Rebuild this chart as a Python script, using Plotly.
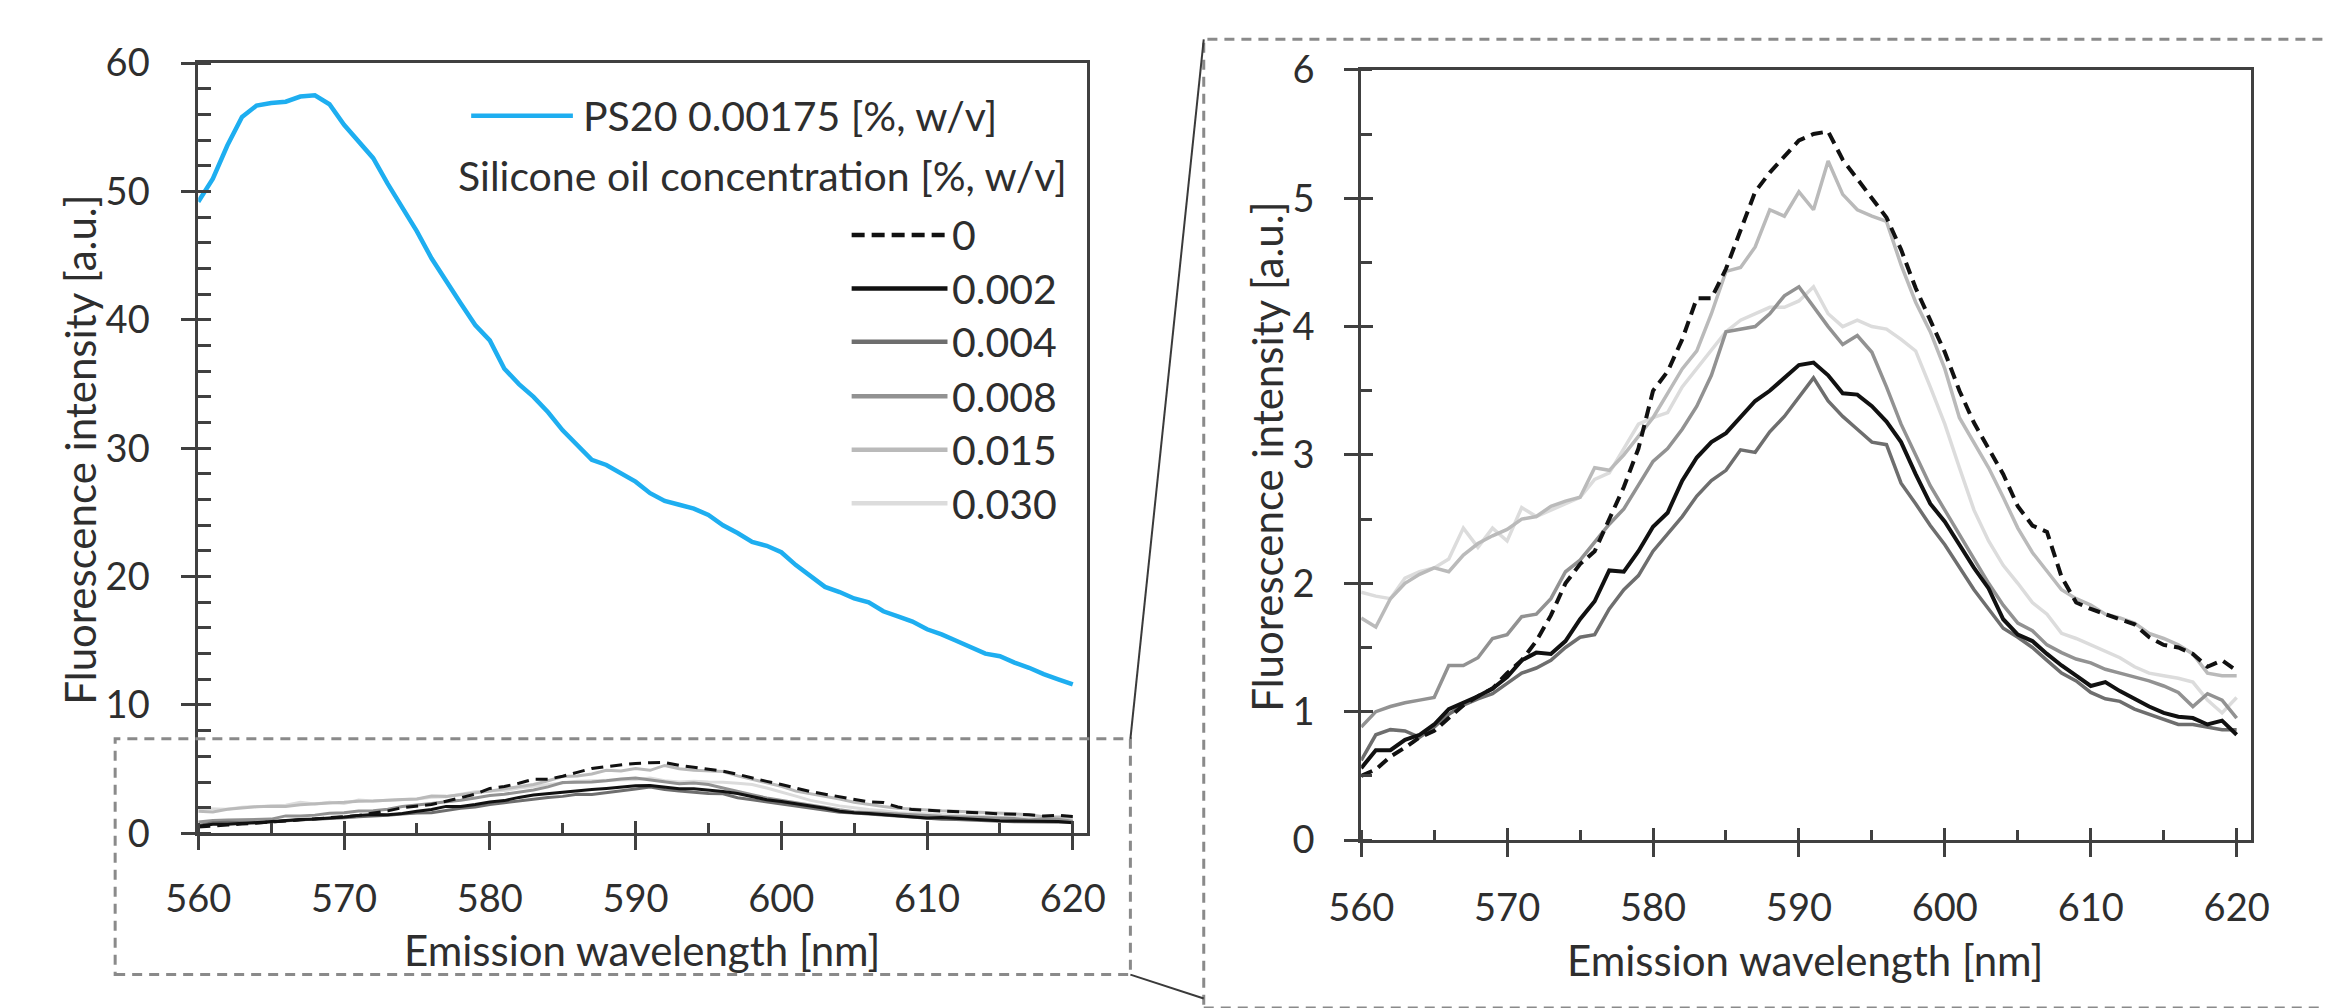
import plotly.graph_objects as go

# ---------------- data ----------------
wavelength_nm = list(range(560, 621))

ps20_00175 = [49.2, 51.0, 53.6, 55.8, 56.7, 56.9, 57.0, 57.4, 57.5, 56.8,
              55.2, 53.9, 52.6, 50.6, 48.8, 46.9, 44.8, 43.0, 41.3, 39.6,
              38.4, 36.2, 35.0, 34.0, 32.8, 31.4, 30.2, 29.1, 28.7, 28.0,
              27.4, 26.5, 25.9, 25.6, 25.3, 24.8, 24.0, 23.4, 22.7, 22.4,
              21.9, 20.9, 20.0, 19.2, 18.8, 18.3, 18.0, 17.3, 16.9, 16.5,
              15.9, 15.5, 15.0, 14.5, 14.0, 13.8, 13.3, 12.9, 12.4, 12.0,
              11.6]

oil_0 = [0.50, 0.55, 0.65, 0.72, 0.80, 0.85, 0.95, 1.05, 1.12, 1.18,
         1.30, 1.40, 1.55, 1.75, 2.00, 2.15, 2.25, 2.50, 2.75, 3.05,
         3.50, 3.65, 3.90, 4.22, 4.22, 4.45, 4.75, 5.05, 5.20, 5.32,
         5.45, 5.50, 5.52, 5.30, 5.15, 5.00, 4.85, 4.60, 4.30, 4.05,
         3.80, 3.50, 3.25, 3.05, 2.85, 2.60, 2.45, 2.40, 2.05, 1.85,
         1.80, 1.76, 1.72, 1.68, 1.58, 1.52, 1.50, 1.45, 1.35, 1.40,
         1.32]

oil_0002 = [0.56, 0.70, 0.70, 0.78, 0.82, 0.90, 1.02, 1.07, 1.12, 1.18,
            1.27, 1.40, 1.46, 1.45, 1.55, 1.72, 1.86, 2.10, 2.09, 2.25,
            2.44, 2.55, 2.80, 2.98, 3.10, 3.17, 3.30, 3.42, 3.50, 3.60,
            3.70, 3.72, 3.62, 3.48, 3.47, 3.38, 3.26, 3.10, 2.85, 2.62,
            2.48, 2.30, 2.12, 1.96, 1.72, 1.60, 1.55, 1.45, 1.36, 1.28,
            1.20, 1.23, 1.16, 1.10, 1.04, 0.99, 0.96, 0.95, 0.90, 0.93,
            0.82]

oil_0004 = [0.62, 0.82, 0.86, 0.85, 0.80, 0.88, 0.98, 1.05, 1.10, 1.14,
            1.22, 1.30, 1.34, 1.40, 1.50, 1.58, 1.60, 1.80, 1.95, 2.06,
            2.25, 2.38, 2.52, 2.68, 2.80, 2.88, 3.04, 3.02, 3.18, 3.30,
            3.45, 3.60, 3.42, 3.30, 3.20, 3.10, 3.08, 2.78, 2.62, 2.45,
            2.30, 2.12, 1.95, 1.80, 1.65, 1.58, 1.50, 1.40, 1.30, 1.24,
            1.15, 1.10, 1.08, 1.02, 0.98, 0.94, 0.90, 0.90, 0.88, 0.86,
            0.86]

oil_0008 = [0.88, 1.00, 1.04, 1.07, 1.09, 1.11, 1.36, 1.36, 1.42, 1.57,
            1.60, 1.74, 1.76, 1.88, 2.09, 2.18, 2.32, 2.46, 2.58, 2.76,
            2.95, 3.05, 3.20, 3.38, 3.62, 3.96, 3.98, 4.00, 4.10, 4.24,
            4.31, 4.15, 4.00, 3.86, 3.93, 3.80, 3.53, 3.24, 3.00, 2.76,
            2.57, 2.38, 2.19, 2.00, 1.83, 1.69, 1.63, 1.52, 1.46, 1.41,
            1.38, 1.33, 1.30, 1.27, 1.24, 1.20, 1.15, 1.04, 1.14, 1.09,
            0.95]

oil_0015 = [1.73, 1.66, 1.88, 2.00, 2.07, 2.12, 2.09, 2.22, 2.31, 2.37,
            2.42, 2.50, 2.52, 2.60, 2.64, 2.67, 2.90, 2.88, 3.00, 3.14,
            3.29, 3.48, 3.67, 3.81, 4.10, 4.43, 4.46, 4.62, 4.91, 4.86,
            5.05, 4.91, 5.29, 5.03, 4.91, 4.86, 4.82, 4.48, 4.19, 3.96,
            3.67, 3.29, 3.10, 2.90, 2.67, 2.43, 2.24, 2.09, 1.95, 1.88,
            1.83, 1.76, 1.73, 1.69, 1.61, 1.57, 1.52, 1.45, 1.30, 1.28,
            1.28]

oil_0030 = [1.93, 1.90, 1.88, 2.04, 2.09, 2.12, 2.19, 2.43, 2.28, 2.43,
            2.33, 2.59, 2.52, 2.57, 2.62, 2.67, 2.81, 2.86, 3.05, 3.24,
            3.29, 3.33, 3.53, 3.67, 3.81, 3.96, 4.05, 4.10, 4.15, 4.15,
            4.20, 4.31, 4.10, 4.00, 4.05, 4.00, 3.98, 3.90, 3.81, 3.53,
            3.24, 2.90, 2.57, 2.33, 2.14, 2.00, 1.85, 1.76, 1.61, 1.57,
            1.52, 1.47, 1.42, 1.35, 1.30, 1.28, 1.26, 1.23, 1.09, 0.99,
            1.11]

x_tick_values = [560, 570, 580, 590, 600, 610, 620]
left_y_ticks = [0, 10, 20, 30, 40, 50, 60]
right_y_ticks = [0, 1, 2, 3, 4, 5, 6]

blue_label = "PS20 0.00175 [%, w/v]"
oil_title = "Silicone oil concentration [%, w/v]"
oil_labels = ["0", "0.002", "0.004", "0.008", "0.015", "0.030"]
x_title = "Emission wavelength [nm]"
y_title = "Fluorescence intensity [a.u.]"

# ---------------- styles ----------------
W, H = 2325, 1008
FONT = "Lato, 'Open Sans', sans-serif"
TXT = "#2e2e2e"
AX = "#404040"
oil_series = [oil_0, oil_0002, oil_0004, oil_0008, oil_0015, oil_0030]
oil_colors = ["#111111", "#111111", "#6e6e6e", "#929292", "#bababa", "#dcdcdc"]
oil_dash = ["12px,7px", "solid", "solid", "solid", "solid", "solid"]
draw_order = [5, 4, 3, 2, 1, 0]


def px(x):
    return x / W


def py(y):
    return 1 - y / H


fig = go.Figure()

# left panel
for i in draw_order:
    fig.add_trace(go.Scatter(x=wavelength_nm, y=oil_series[i], mode="lines",
                             line=dict(color=oil_colors[i], width=3, dash=oil_dash[i]),
                             xaxis="x", yaxis="y", showlegend=False))
fig.add_trace(go.Scatter(x=wavelength_nm, y=ps20_00175, mode="lines",
                         line=dict(color="#1eaef0", width=4.5),
                         xaxis="x", yaxis="y", showlegend=False))
# right panel
for i in draw_order:
    fig.add_trace(go.Scatter(x=wavelength_nm, y=oil_series[i], mode="lines",
                             line=dict(color=oil_colors[i], width=4 if i < 2 else 3.5,
                                       dash=oil_dash[i]),
                             xaxis="x2", yaxis="y2", showlegend=False))
# empty traces to activate overlay axes (inner half of crossing major ticks)
fig.add_trace(go.Scatter(x=[], y=[], xaxis="x3", yaxis="y3", showlegend=False))
fig.add_trace(go.Scatter(x=[], y=[], xaxis="x4", yaxis="y4", showlegend=False))

L_dom_x = [px(169), px(1078)]
L_dom_y = [py(847), py(40)]
R_dom_x = [px(1358), px(2268)]
R_dom_y = [py(854), py(47)]

tickfont = dict(family=FONT, size=38, color=TXT)


def main_axis(domain, rng, tickvals, minor_dtick, minor_len, anchor, standoff):
    return dict(domain=domain, range=rng, tickmode="array", tickvals=tickvals,
                ticks="outside", ticklen=14, tickwidth=2.5, tickcolor=AX,
                showline=True, linecolor=AX, linewidth=3, mirror=True,
                showgrid=False, zeroline=False, anchor=anchor,
                tickfont=tickfont, ticklabelstandoff=standoff,
                minor=dict(ticks="inside", dtick=minor_dtick, tick0=0, ticklen=minor_len,
                           tickwidth=2.5, tickcolor=AX, showgrid=False))


def inner_axis(over, anchor, rng, tickvals, side):
    return dict(overlaying=over, anchor=anchor, range=rng, tickmode="array",
                tickvals=tickvals, ticks="inside", ticklen=12, tickwidth=2.5,
                tickcolor=AX, showticklabels=False, showline=False, showgrid=False,
                zeroline=False, side=side)


fig.update_layout(
    width=W, height=H,
    margin=dict(l=0, r=0, t=0, b=0),
    paper_bgcolor="white", plot_bgcolor="white",
    showlegend=False,
    xaxis=main_axis(L_dom_x, [560, 621], x_tick_values, 5, 10, "y", 16),
    yaxis=main_axis(L_dom_y, [0, 60], left_y_ticks, 2, 13, "x", 24),
    xaxis2=main_axis(R_dom_x, [560, 621], x_tick_values, 5, 10, "y2", 18),
    yaxis2=main_axis(R_dom_y, [0, 6], right_y_ticks, 0.5, 11, "x2", 22),
    xaxis3=inner_axis("x", "y", [560, 621], x_tick_values, "bottom"),
    yaxis3=inner_axis("y", "x", [0, 60], left_y_ticks, "left"),
    xaxis4=inner_axis("x2", "y2", [560, 621], x_tick_values, "bottom"),
    yaxis4=inner_axis("y2", "x2", [0, 6], right_y_ticks, "left"),
)

annotations = []
shapes = []
title_font = dict(family=FONT, size=42, color=TXT)
# axis titles
annotations.append(dict(text=x_title, x=px(623), y=py(969), xref="paper", yref="paper",
                        xanchor="center", yanchor="middle", showarrow=False, font=title_font))
annotations.append(dict(text=x_title, x=px(1812), y=py(980), xref="paper", yref="paper",
                        xanchor="center", yanchor="middle", showarrow=False, font=title_font))
annotations.append(dict(text=y_title, x=px(48), y=py(445), xref="paper", yref="paper",
                        xanchor="center", yanchor="middle", textangle=-90, showarrow=False,
                        font=title_font))
annotations.append(dict(text=y_title, x=px(1262), y=py(452), xref="paper", yref="paper",
                        xanchor="center", yanchor="middle", textangle=-90, showarrow=False,
                        font=title_font))

# legend (drawn manually to match the long sample lines)
leg_font = dict(family=FONT, size=41, color=TXT)
shapes.append(dict(type="line", xref="paper", yref="paper", x0=px(448), x1=px(552),
                   y0=py(95), y1=py(95), line=dict(color="#1eaef0", width=4.5)))
annotations.append(dict(text=blue_label, x=px(560), y=py(95), xref="paper", yref="paper",
                        xanchor="left", yanchor="middle", showarrow=False, font=leg_font))
annotations.append(dict(text=oil_title, x=px(1059), y=py(158), xref="paper", yref="paper",
                        xanchor="right", yanchor="middle", showarrow=False, font=leg_font))
leg_y = [220, 276, 332, 389, 445, 501]
for i, lab in enumerate(oil_labels):
    shapes.append(dict(type="line", xref="paper", yref="paper", x0=px(837), x1=px(935),
                       y0=py(leg_y[i]), y1=py(leg_y[i]),
                       line=dict(color=oil_colors[i], width=4.5,
                                 dash="13px,7px" if oil_dash[i] != "solid" else "solid")))
    annotations.append(dict(text=lab, x=px(938), y=py(leg_y[i]), xref="paper", yref="paper",
                            xanchor="left", yanchor="middle", showarrow=False, font=leg_font))

# zoom boxes and connectors
box_line = dict(color="#8a8a8a", width=3, dash="10px,7px")
shapes.append(dict(type="rect", xref="paper", yref="paper", x0=px(84), x1=px(1122),
                   y0=py(995), y1=py(748), line=box_line, fillcolor="rgba(0,0,0,0)"))
shapes.append(dict(type="rect", xref="paper", yref="paper", x0=px(1197), x1=px(2360),
                   y0=py(1030), y1=py(15), line=box_line, fillcolor="rgba(0,0,0,0)"))
shapes.append(dict(type="line", xref="paper", yref="paper", x0=px(1122), y0=py(748),
                   x1=px(1197), y1=py(15), line=dict(color="#3a3a3a", width=2)))
shapes.append(dict(type="line", xref="paper", yref="paper", x0=px(1122), y0=py(995),
                   x1=px(1197), y1=py(1020), line=dict(color="#3a3a3a", width=2)))

fig.update_layout(annotations=annotations, shapes=shapes)
fig.write_html("out.html")
